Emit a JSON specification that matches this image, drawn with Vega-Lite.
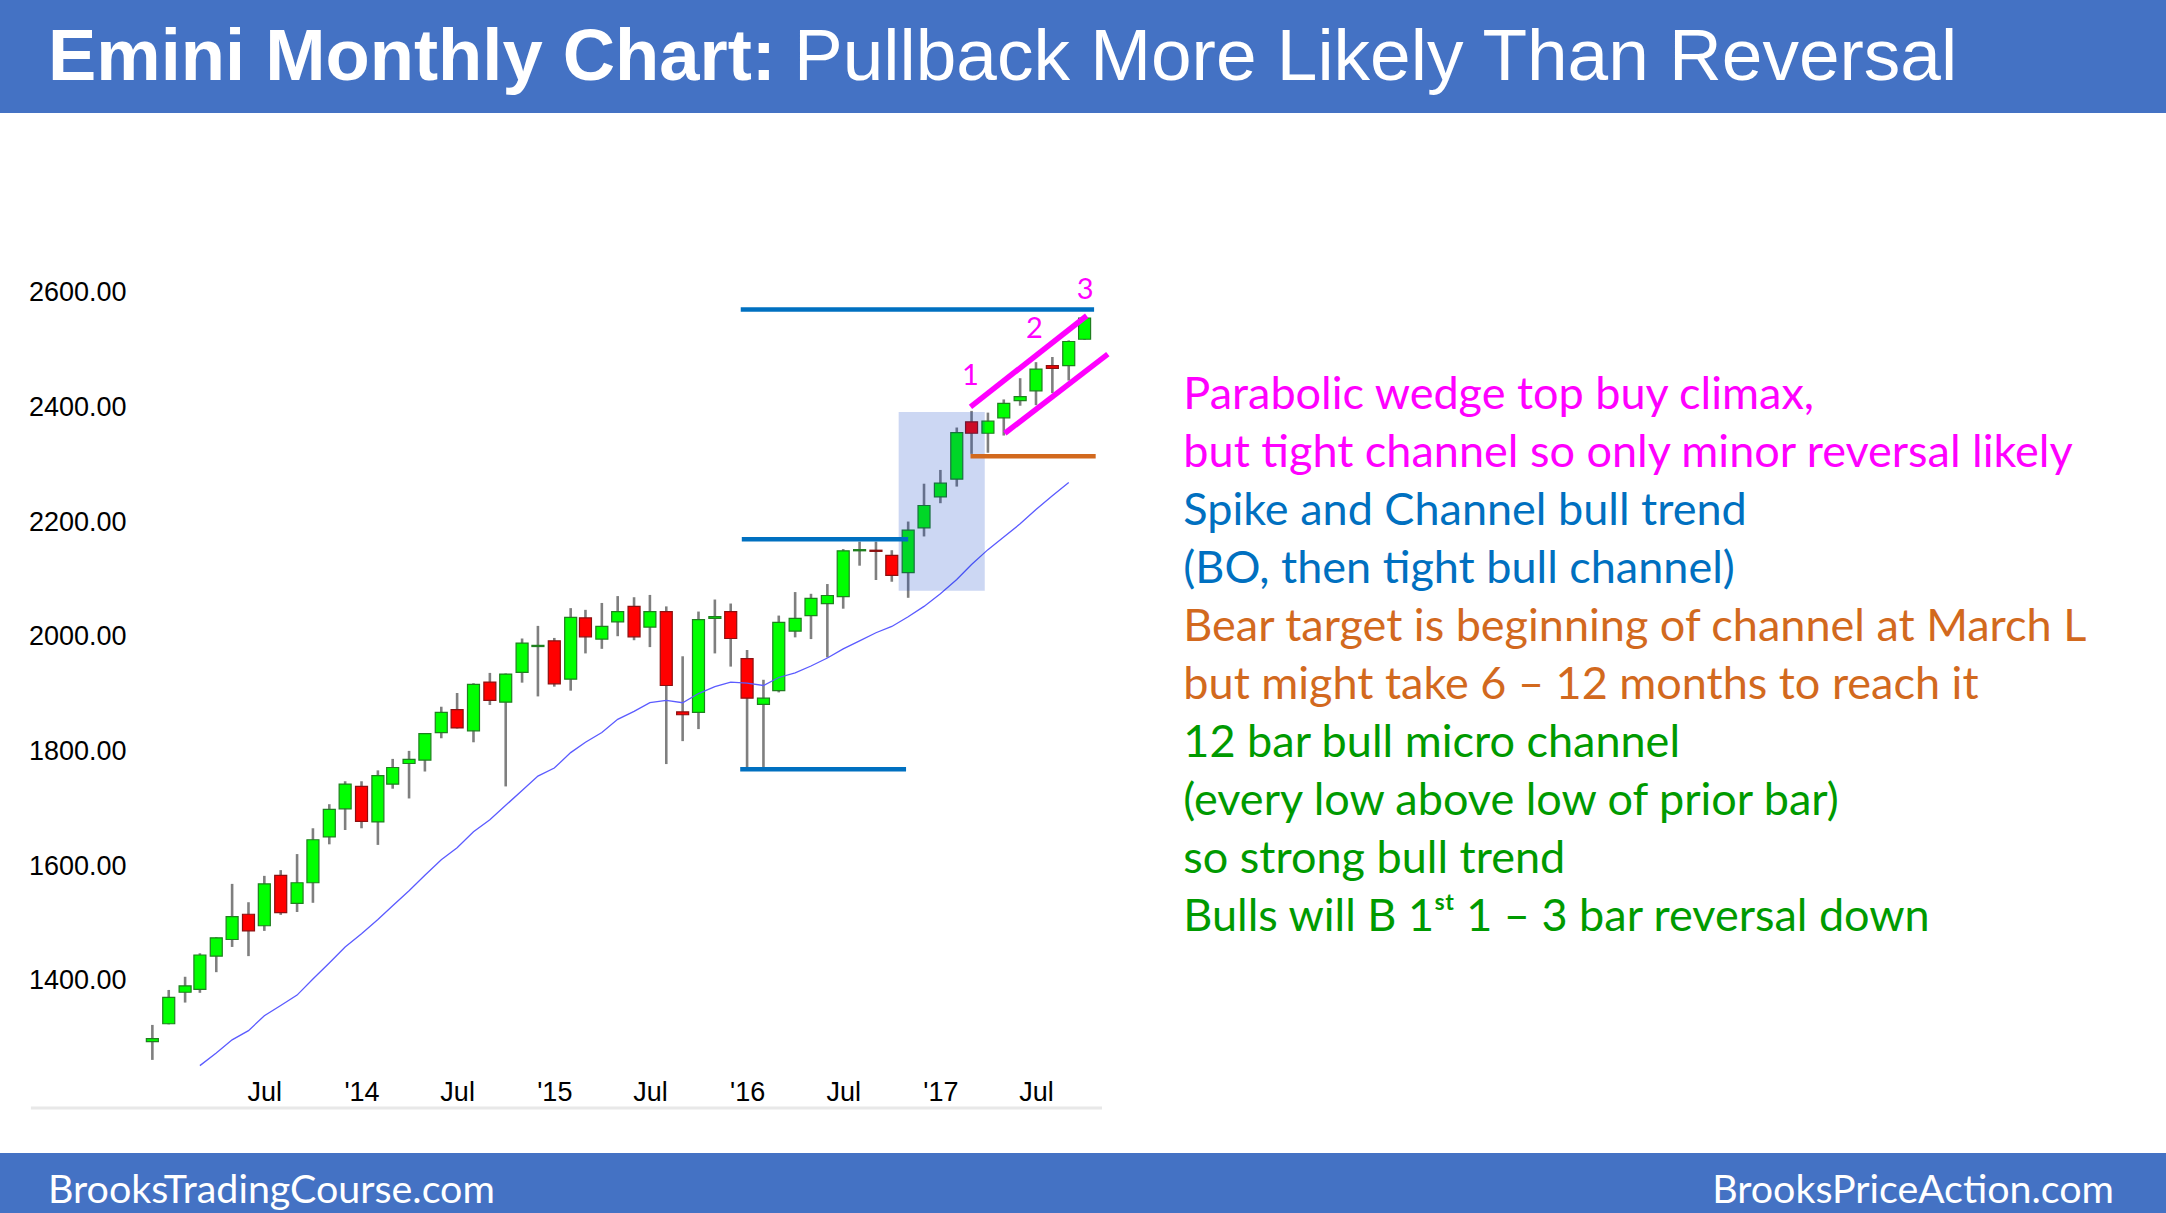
{
  "$schema": "https://vega.github.io/schema/vega-lite/v6.json",
  "padding": 0,
  "spacing": 0,
  "background": "#FFFFFF",
  "config": {"view": {"stroke": null}},
  "datasets": {
    "candles": [
      {"month": "2012-12-01", "open": 1294, "high": 1323, "low": 1262, "close": 1299},
      {"month": "2013-01-01", "open": 1325, "high": 1384, "low": 1324, "close": 1371},
      {"month": "2013-02-01", "open": 1380, "high": 1407, "low": 1362, "close": 1391},
      {"month": "2013-03-01", "open": 1385, "high": 1448, "low": 1379, "close": 1445},
      {"month": "2013-04-01", "open": 1443, "high": 1476, "low": 1415, "close": 1475},
      {"month": "2013-05-01", "open": 1472, "high": 1569, "low": 1459, "close": 1512},
      {"month": "2013-06-01", "open": 1516, "high": 1537, "low": 1443, "close": 1487},
      {"month": "2013-07-01", "open": 1496, "high": 1583, "low": 1487, "close": 1569},
      {"month": "2013-08-01", "open": 1584, "high": 1593, "low": 1515, "close": 1519},
      {"month": "2013-09-01", "open": 1535, "high": 1621, "low": 1520, "close": 1571},
      {"month": "2013-10-01", "open": 1571, "high": 1666, "low": 1536, "close": 1646},
      {"month": "2013-11-01", "open": 1651, "high": 1708, "low": 1638, "close": 1699},
      {"month": "2013-12-01", "open": 1700, "high": 1748, "low": 1663, "close": 1743},
      {"month": "2014-01-01", "open": 1739, "high": 1748, "low": 1666, "close": 1678},
      {"month": "2014-02-01", "open": 1677, "high": 1767, "low": 1637, "close": 1758},
      {"month": "2014-03-01", "open": 1743, "high": 1787, "low": 1735, "close": 1772},
      {"month": "2014-04-01", "open": 1779, "high": 1801, "low": 1718, "close": 1786},
      {"month": "2014-05-01", "open": 1785, "high": 1832, "low": 1765, "close": 1831},
      {"month": "2014-06-01", "open": 1833, "high": 1878, "low": 1823, "close": 1868},
      {"month": "2014-07-01", "open": 1873, "high": 1902, "low": 1840, "close": 1841},
      {"month": "2014-08-01", "open": 1836, "high": 1919, "low": 1816, "close": 1917},
      {"month": "2014-09-01", "open": 1921, "high": 1937, "low": 1881, "close": 1889},
      {"month": "2014-10-01", "open": 1886, "high": 1936, "low": 1739, "close": 1935},
      {"month": "2014-11-01", "open": 1938, "high": 1997, "low": 1920, "close": 1989},
      {"month": "2014-12-01", "open": 1983, "high": 2019, "low": 1896, "close": 1985},
      {"month": "2015-01-01", "open": 1993, "high": 1998, "low": 1913, "close": 1918},
      {"month": "2015-02-01", "open": 1926, "high": 2050, "low": 1906, "close": 2034},
      {"month": "2015-03-01", "open": 2033, "high": 2047, "low": 1971, "close": 2000},
      {"month": "2015-04-01", "open": 1996, "high": 2059, "low": 1979, "close": 2018},
      {"month": "2015-05-01", "open": 2026, "high": 2071, "low": 2001, "close": 2044},
      {"month": "2015-06-01", "open": 2053, "high": 2069, "low": 1994, "close": 2000},
      {"month": "2015-07-01", "open": 2017, "high": 2073, "low": 1982, "close": 2044},
      {"month": "2015-08-01", "open": 2044, "high": 2053, "low": 1778, "close": 1915},
      {"month": "2015-09-01", "open": 1869, "high": 1966, "low": 1818, "close": 1864},
      {"month": "2015-10-01", "open": 1868, "high": 2044, "low": 1839, "close": 2030},
      {"month": "2015-11-01", "open": 2032, "high": 2065, "low": 1971, "close": 2035},
      {"month": "2015-12-01", "open": 2044, "high": 2058, "low": 1948, "close": 1997},
      {"month": "2016-01-01", "open": 1962, "high": 1977, "low": 1770, "close": 1893},
      {"month": "2016-02-01", "open": 1882, "high": 1925, "low": 1770, "close": 1893},
      {"month": "2016-03-01", "open": 1906, "high": 2037, "low": 1903, "close": 2025},
      {"month": "2016-04-01", "open": 2010, "high": 2078, "low": 1999, "close": 2032},
      {"month": "2016-05-01", "open": 2037, "high": 2075, "low": 1996, "close": 2067},
      {"month": "2016-06-01", "open": 2058, "high": 2092, "low": 1964, "close": 2072},
      {"month": "2016-07-01", "open": 2070, "high": 2153, "low": 2049, "close": 2150},
      {"month": "2016-08-01", "open": 2150, "high": 2166, "low": 2124, "close": 2152},
      {"month": "2016-09-01", "open": 2151, "high": 2166, "low": 2099, "close": 2149},
      {"month": "2016-10-01", "open": 2142, "high": 2151, "low": 2096, "close": 2107},
      {"month": "2016-11-01", "open": 2112, "high": 2201, "low": 2068, "close": 2186},
      {"month": "2016-12-01", "open": 2190, "high": 2267, "low": 2175, "close": 2229},
      {"month": "2017-01-01", "open": 2244, "high": 2291, "low": 2233, "close": 2268},
      {"month": "2017-02-01", "open": 2275, "high": 2365, "low": 2262, "close": 2356},
      {"month": "2017-03-01", "open": 2375, "high": 2394, "low": 2319, "close": 2355},
      {"month": "2017-04-01", "open": 2355, "high": 2391, "low": 2321, "close": 2376},
      {"month": "2017-05-01", "open": 2382, "high": 2414, "low": 2351, "close": 2407},
      {"month": "2017-06-01", "open": 2412, "high": 2451, "low": 2403, "close": 2419},
      {"month": "2017-07-01", "open": 2429, "high": 2479, "low": 2404, "close": 2467},
      {"month": "2017-08-01", "open": 2473, "high": 2488, "low": 2425, "close": 2468},
      {"month": "2017-09-01", "open": 2473, "high": 2517, "low": 2447, "close": 2515},
      {"month": "2017-10-01", "open": 2519, "high": 2557, "low": 2518, "close": 2556}
    ],
    "ma": [
      {"month": "2013-03-01", "ma": 1252}, {"month": "2013-04-01", "ma": 1274},
      {"month": "2013-05-01", "ma": 1297}, {"month": "2013-06-01", "ma": 1313},
      {"month": "2013-07-01", "ma": 1339}, {"month": "2013-08-01", "ma": 1357},
      {"month": "2013-09-01", "ma": 1375}, {"month": "2013-10-01", "ma": 1403},
      {"month": "2013-11-01", "ma": 1431}, {"month": "2013-12-01", "ma": 1459},
      {"month": "2014-01-01", "ma": 1482}, {"month": "2014-02-01", "ma": 1507},
      {"month": "2014-03-01", "ma": 1531}, {"month": "2014-04-01", "ma": 1557},
      {"month": "2014-05-01", "ma": 1584}, {"month": "2014-06-01", "ma": 1611},
      {"month": "2014-07-01", "ma": 1632}, {"month": "2014-08-01", "ma": 1660},
      {"month": "2014-09-01", "ma": 1681}, {"month": "2014-10-01", "ma": 1706},
      {"month": "2014-11-01", "ma": 1732}, {"month": "2014-12-01", "ma": 1757},
      {"month": "2015-01-01", "ma": 1771}, {"month": "2015-02-01", "ma": 1798},
      {"month": "2015-03-01", "ma": 1816}, {"month": "2015-04-01", "ma": 1833},
      {"month": "2015-05-01", "ma": 1856}, {"month": "2015-06-01", "ma": 1870},
      {"month": "2015-07-01", "ma": 1885}, {"month": "2015-08-01", "ma": 1889},
      {"month": "2015-09-01", "ma": 1885}, {"month": "2015-10-01", "ma": 1901},
      {"month": "2015-11-01", "ma": 1913}, {"month": "2015-12-01", "ma": 1921},
      {"month": "2016-01-01", "ma": 1919}, {"month": "2016-02-01", "ma": 1915},
      {"month": "2016-03-01", "ma": 1929}, {"month": "2016-04-01", "ma": 1937},
      {"month": "2016-05-01", "ma": 1949}, {"month": "2016-06-01", "ma": 1963},
      {"month": "2016-07-01", "ma": 1979}, {"month": "2016-08-01", "ma": 1993},
      {"month": "2016-09-01", "ma": 2007}, {"month": "2016-10-01", "ma": 2018},
      {"month": "2016-11-01", "ma": 2035}, {"month": "2016-12-01", "ma": 2053},
      {"month": "2017-01-01", "ma": 2075}, {"month": "2017-02-01", "ma": 2100},
      {"month": "2017-03-01", "ma": 2126}, {"month": "2017-04-01", "ma": 2152},
      {"month": "2017-05-01", "ma": 2174}, {"month": "2017-06-01", "ma": 2197},
      {"month": "2017-07-01", "ma": 2222}, {"month": "2017-08-01", "ma": 2246},
      {"month": "2017-09-01", "ma": 2269}
    ],
    "zone": [{"from": "2016-10-14", "to": "2017-03-26", "low": 2080.5, "high": 2392}],
    "levels": [
      {"from": "2015-12-20", "to": "2017-10-19", "price": 2571, "theme": "spike"},
      {"from": "2015-12-22", "to": "2016-11-01", "price": 2170, "theme": "spike"},
      {"from": "2015-12-19", "to": "2016-10-28", "price": 1769, "theme": "spike"},
      {"from": "2017-02-27", "to": "2017-10-22", "price": 2315, "theme": "bear"}
    ],
    "wedge": [
      {"from": "2017-02-27", "to": "2017-10-05", "start": 2401, "end": 2560, "theme": "wedge"},
      {"from": "2017-05-03", "to": "2017-11-14", "start": 2355, "end": 2493, "theme": "wedge"}
    ],
    "pushes": [
      {"at": "2017-02-27", "price": 2439, "label": "1", "theme": "wedge"},
      {"at": "2017-06-28", "price": 2522, "label": "2", "theme": "wedge"},
      {"at": "2017-10-02", "price": 2589, "label": "3", "theme": "wedge"}
    ],
    "notes": [
      {"at": "2018-04-06", "price": 2397.3, "theme": "wedge", "text": "Parabolic wedge top buy climax,"},
      {"at": "2018-04-06", "price": 2296.1, "theme": "wedge", "text": "but tight channel so only minor reversal likely"},
      {"at": "2018-04-06", "price": 2194.9, "theme": "spike", "text": "Spike and Channel bull trend"},
      {"at": "2018-04-06", "price": 2093.8, "theme": "spike", "text": "(BO, then tight bull channel)"},
      {"at": "2018-04-06", "price": 1992.6, "theme": "bear", "text": "Bear target is beginning of channel at March L"},
      {"at": "2018-04-06", "price": 1891.4, "theme": "bear", "text": "but might take 6 – 12 months to reach it"},
      {"at": "2018-04-06", "price": 1790.2, "theme": "bull", "text": "12 bar bull micro channel"},
      {"at": "2018-04-06", "price": 1689.1, "theme": "bull", "text": "(every low above low of prior bar)"},
      {"at": "2018-04-06", "price": 1587.9, "theme": "bull", "text": "so strong bull trend"},
      {"at": "2018-04-06", "price": 1486.7, "theme": "bull", "text": "Bulls will B 1ˢᵗ 1 – 3 bar reversal down"}
    ],
    "frame": [{"from": "2012-04-15", "to": "2017-11-03", "price": 1178}]
  },
  "vconcat": [
    {
      "width": 2166,
      "height": 113,
      "view": {"fill": "#4472C4", "stroke": null},
      "layer": [
        {
          "data": {"values": [{"text": "Emini Monthly Chart:"}]},
          "mark": {"type": "text", "font": "Liberation Sans", "fontSize": 72.4, "fontWeight": "bold", "color": "#FFFFFF", "align": "left", "baseline": "alphabetic", "x": 48, "y": 80},
          "encoding": {"text": {"field": "text"}}
        },
        {
          "data": {"values": [{"text": "Pullback More Likely Than Reversal"}]},
          "mark": {"type": "text", "font": "Liberation Sans", "fontSize": 73, "color": "#FFFFFF", "align": "left", "baseline": "alphabetic", "x": 794, "y": 80},
          "encoding": {"text": {"field": "text"}}
        }
      ]
    },
    {
      "width": 2166,
      "height": 1040,
      "layer": [
        {
          "data": {"name": "candles"},
          "mark": {"type": "rule", "color": "#7F7F7F", "strokeWidth": 2.6},
          "encoding": {
            "x": {
              "field": "month", "type": "temporal", "title": null,
              "scale": {"type": "utc", "domain": [{"year": 2012, "month": 2, "date": 26, "utc": true}, {"year": 2023, "month": 5, "date": 1, "utc": true}]},
              "axis": {
                "orient": "bottom", "offset": -53, "domain": false, "ticks": false, "tickSize": 0, "grid": false,
                "labelPadding": 0, "labelBaseline": "alphabetic", "labelFont": "Liberation Sans", "labelFontSize": 27, "labelColor": "#000000",
                "labelFlush": false, "labelOverlap": false,
                "values": [
                  {"year": 2013, "month": 7, "date": 1, "utc": true},
                  {"year": 2014, "month": 1, "date": 1, "utc": true},
                  {"year": 2014, "month": 7, "date": 1, "utc": true},
                  {"year": 2015, "month": 1, "date": 1, "utc": true},
                  {"year": 2015, "month": 7, "date": 1, "utc": true},
                  {"year": 2016, "month": 1, "date": 1, "utc": true},
                  {"year": 2016, "month": 7, "date": 1, "utc": true},
                  {"year": 2017, "month": 1, "date": 1, "utc": true},
                  {"year": 2017, "month": 7, "date": 1, "utc": true}
                ],
                "labelExpr": "utcmonth(datum.value) === 0 ? \"'\" + utcFormat(datum.value, '%y') : utcFormat(datum.value, '%b')"
              }
            },
            "y": {
              "field": "low", "type": "quantitative", "title": null,
              "scale": {"domain": [1099.6, 2913.6], "nice": false, "zero": false},
              "axis": {
                "orient": "left", "offset": -126, "domain": false, "ticks": false, "tickSize": 0, "grid": false,
                "labelPadding": 0, "labelFont": "Liberation Sans", "labelFontSize": 27, "labelColor": "#000000",
                "values": [1400, 1600, 1800, 2000, 2200, 2400, 2600], "format": ".2f"
              }
            },
            "y2": {"field": "high"}
          }
        },
        {
          "data": {"name": "candles"},
          "mark": {"type": "bar", "width": 12, "strokeWidth": 1.2},
          "encoding": {
            "x": {"field": "month", "type": "temporal", "title": null},
            "y": {"field": "open", "type": "quantitative", "title": null},
            "y2": {"field": "close"},
            "fill": {"condition": {"test": "datum.close >= datum.open", "value": "#00FF00"}, "value": "#FF0000"},
            "stroke": {"condition": {"test": "datum.close >= datum.open", "value": "#1F7F1F"}, "value": "#8B1010"}
          }
        },
        {
          "data": {"name": "ma"},
          "mark": {"type": "line", "color": "#5B5BFF", "strokeWidth": 1.3},
          "encoding": {
            "x": {"field": "month", "type": "temporal", "title": null},
            "y": {"field": "ma", "type": "quantitative", "title": null}
          }
        },
        {
          "data": {"name": "zone"},
          "mark": {"type": "rect", "color": "#0036C4", "opacity": 0.2},
          "encoding": {
            "x": {"field": "from", "type": "temporal", "title": null},
            "x2": {"field": "to"},
            "y": {"field": "low", "type": "quantitative", "title": null},
            "y2": {"field": "high"}
          }
        },
        {
          "data": {"name": "levels"},
          "mark": {"type": "rule", "strokeWidth": 4.5},
          "encoding": {
            "x": {"field": "from", "type": "temporal", "title": null},
            "x2": {"field": "to"},
            "y": {"field": "price", "type": "quantitative", "title": null},
            "color": {"field": "theme", "type": "nominal", "legend": null,
              "scale": {"domain": ["wedge", "spike", "bear", "bull"], "range": ["#FF00FF", "#0070C0", "#D2691E", "#009A00"]}}
          }
        },
        {
          "data": {"name": "wedge"},
          "mark": {"type": "rule", "strokeWidth": 5.5},
          "encoding": {
            "x": {"field": "from", "type": "temporal", "title": null},
            "x2": {"field": "to"},
            "y": {"field": "start", "type": "quantitative", "title": null},
            "y2": {"field": "end"},
            "color": {"field": "theme", "type": "nominal", "legend": null,
              "scale": {"domain": ["wedge", "spike", "bear", "bull"], "range": ["#FF00FF", "#0070C0", "#D2691E", "#009A00"]}}
          }
        },
        {
          "data": {"name": "pushes"},
          "mark": {"type": "text", "font": "Lato", "fontSize": 29, "align": "center", "baseline": "alphabetic"},
          "encoding": {
            "x": {"field": "at", "type": "temporal", "title": null},
            "y": {"field": "price", "type": "quantitative", "title": null},
            "text": {"field": "label"},
            "color": {"field": "theme", "type": "nominal", "legend": null,
              "scale": {"domain": ["wedge", "spike", "bear", "bull"], "range": ["#FF00FF", "#0070C0", "#D2691E", "#009A00"]}}
          }
        },
        {
          "data": {"name": "notes"},
          "mark": {"type": "text", "font": "Lato", "fontSize": 45, "align": "left", "baseline": "alphabetic"},
          "encoding": {
            "x": {"field": "at", "type": "temporal", "title": null},
            "y": {"field": "price", "type": "quantitative", "title": null},
            "text": {"field": "text"},
            "color": {"field": "theme", "type": "nominal", "legend": null,
              "scale": {"domain": ["wedge", "spike", "bear", "bull"], "range": ["#FF00FF", "#0070C0", "#D2691E", "#009A00"]}}
          }
        },
        {
          "data": {"name": "frame"},
          "mark": {"type": "rule", "color": "#E8E8E8", "strokeWidth": 3},
          "encoding": {
            "x": {"field": "from", "type": "temporal", "title": null},
            "x2": {"field": "to"},
            "y": {"field": "price", "type": "quantitative", "title": null}
          }
        }
      ]
    },
    {
      "width": 2166,
      "height": 60,
      "view": {"fill": "#4472C4", "stroke": null},
      "layer": [
        {
          "data": {"values": [{"text": "BrooksTradingCourse.com"}]},
          "mark": {"type": "text", "font": "Lato", "fontSize": 39.4, "color": "#FFFFFF", "align": "left", "baseline": "alphabetic", "x": 48, "y": 50},
          "encoding": {"text": {"field": "text"}}
        },
        {
          "data": {"values": [{"text": "BrooksPriceAction.com"}]},
          "mark": {"type": "text", "font": "Lato", "fontSize": 39.4, "color": "#FFFFFF", "align": "right", "baseline": "alphabetic", "x": 2114, "y": 50},
          "encoding": {"text": {"field": "text"}}
        }
      ]
    }
  ]
}
